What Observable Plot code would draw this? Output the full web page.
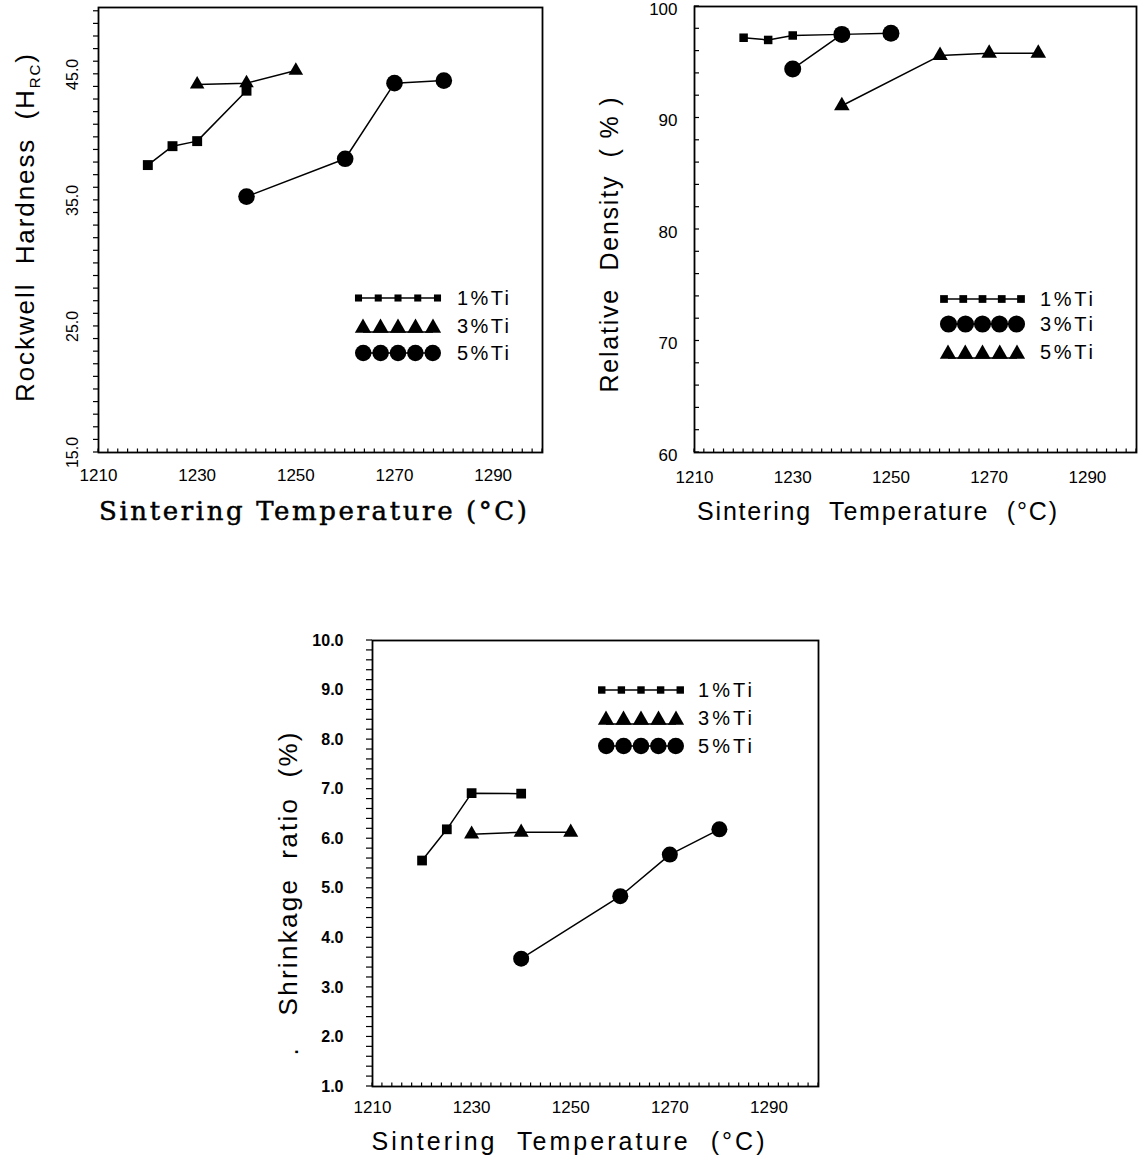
<!DOCTYPE html>
<html>
<head>
<meta charset="utf-8">
<script src="https://cdn.jsdelivr.net/npm/d3@7"></script>
<script src="https://cdn.jsdelivr.net/npm/@observablehq/plot@0.6"></script>
<style>
  html, body { margin: 0; padding: 0; background: #fff; }
  #wrap { position: relative; width: 1147px; height: 1162px; background: #fff; overflow: hidden; }
  #wrap > svg { position: absolute; }
</style>
</head>
<body>
<div id="wrap"></div>
<script>
// ---------------- DATA ----------------
const tempTicks = [1210, 1230, 1250, 1270, 1290];
const seriesLabels = ["1%Ti", "3%Ti", "5%Ti"];

// Rockwell hardness (HRC)
const hardT1 = [1220, 1225, 1230, 1240];
const hard1  = [37.8, 39.3, 39.7, 43.7];
const hardT3 = [1230, 1240, 1250];
const hard3  = [44.2, 44.3, 45.3];
const hardT5 = [1240, 1260, 1270, 1280];
const hard5  = [35.3, 38.3, 44.3, 44.5];
const hardTicks = [15, 25, 35, 45];

// Relative density (%)
const densT1 = [1220, 1225, 1230, 1240];
const dens1  = [97.2, 97.0, 97.4, 97.5];
const densT3 = [1230, 1240, 1250];
const dens3  = [94.4, 97.5, 97.6];
const densT5 = [1240, 1260, 1270, 1280];
const dens5  = [91.1, 95.6, 95.8, 95.8];
const densTicks = [60, 70, 80, 90, 100];

// Shrinkage ratio (%)
const shrT1 = [1220, 1225, 1230, 1240];
const shr1  = [5.56, 6.19, 6.92, 6.91];
const shrT3 = [1230, 1240, 1250];
const shr3  = [6.09, 6.13, 6.13];
const shrT5 = [1240, 1260, 1270, 1280];
const shr5  = [3.58, 4.84, 5.68, 6.19];
const shrTicks = [1, 2, 3, 4, 5, 6, 7, 8, 9, 10];

// ---------------- HELPERS ----------------
const rows = (T, V) => T.map((t, i) => ({t, v: V[i]}));
const SANS = "'Liberation Sans', Arial, sans-serif";
const SERIF = "'DejaVu Serif', 'Liberation Serif', serif";

function tickMark(axis, values, len, width = 1.2) {
  return (index, scales, v, dim) => {
    const g = d3.create("svg:g").attr("stroke", "#000").attr("stroke-width", width);
    const s = scales[axis];
    if (axis === "x") {
      const y0 = dim.height - dim.marginBottom;
      for (const t of values) g.append("line").attr("x1", s(t)).attr("x2", s(t)).attr("y1", y0).attr("y2", y0 + len);
    } else {
      const x0 = dim.marginLeft;
      for (const t of values) g.append("line").attr("x1", x0).attr("x2", x0 - len).attr("y1", s(t)).attr("y2", s(t));
    }
    return g.node();
  };
}

function titleMark({x, y, rotate = 0, parts, family, size, weight = "normal", length, stroke = 0}) {
  return () => {
    const t = d3.create("svg:text")
      .attr("transform", `translate(${x},${y}) rotate(${rotate})`)
      .attr("text-anchor", "middle")
      .attr("font-family", family)
      .attr("font-size", size)
      .attr("font-weight", weight)
      .attr("fill", "#000");
    if (stroke) t.attr("stroke", "#000").attr("stroke-width", stroke);
    if (length) t.attr("textLength", length).attr("lengthAdjust", "spacing");
    for (const p of parts) {
      const s = t.append("tspan").text(p.text);
      if (p.size) s.attr("font-size", p.size);
      if (p.dy) s.attr("dy", p.dy);
    }
    return t.node();
  };
}

const d3sym = {square: d3.symbolSquare, triangle: d3.symbolTriangle, circle: d3.symbolCircle};

function legendMark({x0, x1, items, textX, textLen, fontSize}) {
  return () => {
    const g = d3.create("svg:g");
    for (const it of items) {
      const w = it.w;
      const cy = it.y + (it.sdy || 0);
      g.append("line").attr("x1", x0 + w / 2).attr("x2", x1 - w / 2)
        .attr("y1", it.y + (it.ldy || 0)).attr("y2", it.y + (it.ldy || 0))
        .attr("stroke", "#000").attr("stroke-width", 1.3);
      for (let i = 0; i < 5; i++) {
        const cx = x0 + w / 2 + (x1 - x0 - w) * i / 4;
        g.append("path").attr("d", d3.symbol(d3sym[it.symbol], it.area)())
          .attr("transform", `translate(${cx},${cy})`).attr("fill", "#000");
      }
      g.append("text").attr("x", textX).attr("y", it.y).attr("dy", "0.36em")
        .attr("text-anchor", "start")
        .attr("font-family", SANS).attr("font-size", fontSize)
        .attr("textLength", textLen).attr("lengthAdjust", "spacing")
        .attr("fill", "#000").text(it.label);
    }
    return g.node();
  };
}

function seriesMarks(data, symbol, r) {
  return [
    Plot.line(data, {x: "t", y: "v", stroke: "#000", strokeWidth: 1.5}),
    Plot.dot(data, {x: "t", y: "v", symbol, r, fill: "#000", stroke: null})
  ];
}

const wrap = document.getElementById("wrap");
function place(svg, left, top) {
  svg.style.left = left + "px";
  svg.style.top = top + "px";
  wrap.appendChild(svg);
}

// ---------------- CHART 1: Rockwell Hardness ----------------
{
  const L = 0, T = 0;
  const xMinor = d3.range(1210, 1301, 2);
  const yMinor = d3.range(15, 50.01, 1);
  const svg = Plot.plot({
    width: 560, height: 540,
    marginLeft: 98, marginRight: 18, marginTop: 7, marginBottom: 88,
    x: {domain: [1210, 1300]},
    y: {domain: [15, 50.3], axis: null},
    style: {fontFamily: SANS, fontSize: "17px", color: "#000", background: "transparent", overflow: "visible"},
    marks: [
      Plot.frame({stroke: "#000", strokeWidth: 1.8}),
      tickMark("x", xMinor, -3.5),
      tickMark("y", yMinor, 5),
      Plot.axisX({ticks: tempTicks, tickSize: 0, tickPadding: 16, tickFormat: d => String(d), fontSize: 17, label: null}),
      Plot.text(hardTicks, {y: d => d, text: d => d.toFixed(1), frameAnchor: "left", dx: -26, rotate: -90,
        fontSize: 16, textAnchor: "middle", lineAnchor: "middle"}),
      ...seriesMarks(rows(hardT1, hard1), "square", 5.6),
      ...seriesMarks(rows(hardT3, hard3), "triangle", 5.4),
      ...seriesMarks(rows(hardT5, hard5), "circle", 8.3),
      legendMark({x0: 355 - L, x1: 441 - L, textX: 457 - L, textLen: 52, fontSize: 20, items: [
        {y: 298 - T, symbol: "square", area: 50, w: 7, label: seriesLabels[0]},
        {y: 326 - T, symbol: "triangle", area: 115, w: 16, sdy: 2, ldy: 6, label: seriesLabels[1]},
        {y: 353 - T, symbol: "circle", area: 215, w: 16.5, label: seriesLabels[2]}
      ]}),
      titleMark({x: 34 - L, y: 228 - T, rotate: -90, family: SANS, size: 26, length: 348,
        parts: [{text: "Rockwell  Hardness  (H"}, {text: "RC", size: 15, dy: 6}, {text: ")", dy: -6}]}),
      titleMark({x: 313 - L, y: 520 - T, family: SERIF, size: 26, length: 428, stroke: 0.5,
        parts: [{text: "Sintering Temperature (°C)"}]})
    ]
  });
  place(svg, L, T);
}

// ---------------- CHART 2: Relative Density ----------------
{
  const L = 580, T = 0;
  const xMinor = d3.range(1210, 1301, 2);
  const yMinor = d3.range(60, 100.01, 2);
  const svg = Plot.plot({
    width: 567, height: 540,
    marginLeft: 114, marginRight: 11, marginTop: 6, marginBottom: 88,
    x: {domain: [1210, 1300]},
    y: {domain: [60, 100]},
    style: {fontFamily: SANS, fontSize: "17px", color: "#000", background: "transparent", overflow: "visible"},
    marks: [
      Plot.frame({stroke: "#000", strokeWidth: 1.8}),
      tickMark("x", xMinor, -3.5),
      tickMark("y", yMinor, -5),
      Plot.axisX({ticks: tempTicks, tickSize: 0, tickPadding: 18, tickFormat: d => String(d), fontSize: 17, label: null}),
      Plot.axisY({ticks: densTicks, tickSize: 0, tickPadding: 17, dy: 3, tickFormat: d => String(d), fontSize: 17, label: null}),
      ...seriesMarks(rows(densT1, dens1), "square", 4.8),
      ...seriesMarks(rows(densT3, dens3), "circle", 8.5),
      ...seriesMarks(rows(densT5, dens5), "triangle", 5.8),
      legendMark({x0: 940 - L, x1: 1025 - L, textX: 1040 - L, textLen: 53, fontSize: 20, items: [
        {y: 299 - T, symbol: "square", area: 60, w: 8, label: seriesLabels[0]},
        {y: 324 - T, symbol: "circle", area: 230, w: 17, label: seriesLabels[1]},
        {y: 352 - T, symbol: "triangle", area: 115, w: 16, sdy: 2, ldy: 6, label: seriesLabels[2]}
      ]}),
      titleMark({x: 618 - L, y: 245 - T, rotate: -90, family: SANS, size: 25, length: 295,
        parts: [{text: "Relative  Density  ( % )"}]}),
      titleMark({x: 877 - L, y: 520 - T, family: SANS, size: 25, length: 360,
        parts: [{text: "Sintering  Temperature  (°C)"}]})
    ]
  });
  place(svg, L, T);
}

// ---------------- CHART 3: Shrinkage ratio ----------------
{
  const L = 280, T = 600;
  const xMinor = d3.range(1210, 1301, 2);
  const yMinor = d3.range(0, 46).map(i => 1 + i * 0.2);
  const svg = Plot.plot({
    width: 560, height: 562,
    marginLeft: 92, marginRight: 22, marginTop: 40, marginBottom: 76,
    x: {domain: [1210, 1300]},
    y: {domain: [1, 10]},
    style: {fontFamily: SANS, fontSize: "17px", color: "#000", background: "transparent", overflow: "visible"},
    marks: [
      Plot.frame({stroke: "#000", strokeWidth: 1.8}),
      tickMark("x", xMinor, -3.5),
      tickMark("y", yMinor, 6),
      Plot.axisX({ticks: tempTicks, tickSize: 0, tickPadding: 14, tickFormat: d => String(d), fontSize: 17, label: null}),
      Plot.axisY({ticks: shrTicks, tickSize: 0, tickPadding: 29, tickFormat: d => d.toFixed(1), fontSize: 16, fontWeight: "bold", label: null}),
      ...seriesMarks(rows(shrT1, shr1), "square", 5.5),
      ...seriesMarks(rows(shrT3, shr3), "triangle", 5.6),
      ...seriesMarks(rows(shrT5, shr5), "circle", 8.0),
      legendMark({x0: 598 - L, x1: 684 - L, textX: 698 - L, textLen: 54, fontSize: 20, items: [
        {y: 690 - T, symbol: "square", area: 55, w: 7.5, label: seriesLabels[0]},
        {y: 718 - T, symbol: "triangle", area: 115, w: 16, sdy: 2, ldy: 6, label: seriesLabels[1]},
        {y: 746 - T, symbol: "circle", area: 215, w: 16.5, label: seriesLabels[2]}
      ]}),
      titleMark({x: 297 - L, y: 874 - T, rotate: -90, family: SANS, size: 26, length: 283,
        parts: [{text: "Shrinkage  ratio  (%)"}]}),
      titleMark({x: 298 - L, y: 1052 - T, rotate: -90, family: SANS, size: 26,
        parts: [{text: "."}]}),
      titleMark({x: 568 - L, y: 1150 - T, family: SANS, size: 25, length: 393,
        parts: [{text: "Sintering  Temperature  (°C)"}]})
    ]
  });
  place(svg, L, T);
}
</script>
</body>
</html>
